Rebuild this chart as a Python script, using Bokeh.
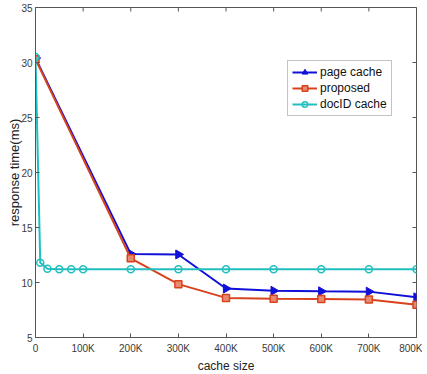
import numpy as np
from bokeh.plotting import figure
from bokeh.models import FixedTicker, Range1d
from bokeh.embed import file_html
from bokeh.resources import INLINE

# ---- data ----
x_page = [0, 200000, 300000, 400000, 500000, 600000, 700000, 800000]
page_cache = [30.4, 12.6, 12.55, 9.45, 9.25, 9.2, 9.17, 8.65]

x_prop = [0, 200000, 300000, 400000, 500000, 600000, 700000, 800000]
proposed = [30.3, 12.2, 9.85, 8.6, 8.53, 8.5, 8.45, 7.98]

x_doc = [0, 10000, 25000, 50000, 75000, 100000, 200000, 300000, 400000,
         500000, 600000, 700000, 800000]
docid_cache = [30.5, 11.8, 11.25, 11.2, 11.2, 11.2, 11.2, 11.2, 11.2,
               11.2, 11.2, 11.2, 11.2]

x_ticks = [0, 100000, 200000, 300000, 400000, 500000, 600000, 700000, 800000]
x_tick_labels = ["0", "100K", "200K", "300K", "400K", "500K", "600K", "700K", "800K"]
y_ticks = [5, 10, 15, 20, 25, 30, 35]

BLUE = "#1010d8"
RED = "#d8431e"
CYAN = "#22bfc0"
FONT = "Liberation Sans"
AXC = "#555555"

p = figure(frame_width=381, frame_height=330,
           x_range=Range1d(0, 800000), y_range=Range1d(5, 35),
           output_backend="svg", toolbar_location=None,
           min_border_left=35, min_border_right=6, min_border_top=7,
           min_border_bottom=0, background_fill_color="white",
           border_fill_color="white")

p.grid.visible = False
p.outline_line_color = AXC
p.outline_line_width = 1

xa = p.xaxis[0]
xa.ticker = FixedTicker(ticks=x_ticks)
xa.major_label_overrides = {t: s for t, s in zip(x_ticks, x_tick_labels)}
xa.axis_label = "cache size"
ya = p.yaxis[0]
ya.ticker = FixedTicker(ticks=y_ticks)
ya.axis_label = "response time(ms)"

for ax in (xa, ya):
    ax.major_tick_in = 4
    ax.major_tick_out = 0
    ax.minor_tick_line_color = None
    ax.axis_line_color = AXC
    ax.major_tick_line_color = AXC
    ax.major_label_text_font = FONT
    ax.major_label_text_font_size = "10px"
    ax.major_label_text_color = "#3a3a3a"
    ax.axis_label_text_font = FONT
    ax.axis_label_text_font_style = "normal"
    ax.axis_label_text_color = "#222222"

xa.major_label_standoff = 5
xa.axis_label_standoff = 2
xa.axis_label_text_font_size = "12px"
ya.major_label_standoff = 3
ya.axis_label_standoff = -4
ya.axis_label_text_font_size = "13px"

# mirrored inward ticks on the top and right edges (clipped to the frame)
p.scatter(x_ticks, [y_ticks[-1]] * len(x_ticks), marker="dash", angle=np.pi / 2,
          size=8, line_color=AXC, line_width=1)
p.scatter([x_ticks[-1]] * len(y_ticks), y_ticks, marker="dash",
          size=8, line_color=AXC, line_width=1)

# series
p.line(x_page, page_cache, color=BLUE, line_width=2, legend_label="page cache")
p.scatter(x_page, page_cache, marker="triangle", angle=-np.pi / 2, size=9,
          color=BLUE, legend_label="page cache")

p.line(x_prop, proposed, color=RED, line_width=2, legend_label="proposed")
p.scatter(x_prop, proposed, marker="square", size=7, line_color=RED,
          fill_color="#e88a70", line_width=1.5, legend_label="proposed")

p.line(x_doc, docid_cache, color=CYAN, line_width=2, legend_label="docID cache")
p.scatter(x_doc, docid_cache, marker="circle", size=7, line_color=CYAN,
          fill_color=None, line_width=1.5, legend_label="docID cache")

lg = p.legend[0]
lg.location = (252, 221)
lg.label_text_font = FONT
lg.label_text_font_size = "12px"
lg.label_text_color = "#111111"
lg.glyph_width = 25
lg.glyph_height = 14
lg.label_height = 14
lg.spacing = 2
lg.padding = 4
lg.margin = 0
lg.label_standoff = 3
lg.border_line_color = "#888888"
lg.background_fill_color = "white"
lg.background_fill_alpha = 1

open("out.html", "w").write(file_html(p, INLINE))
